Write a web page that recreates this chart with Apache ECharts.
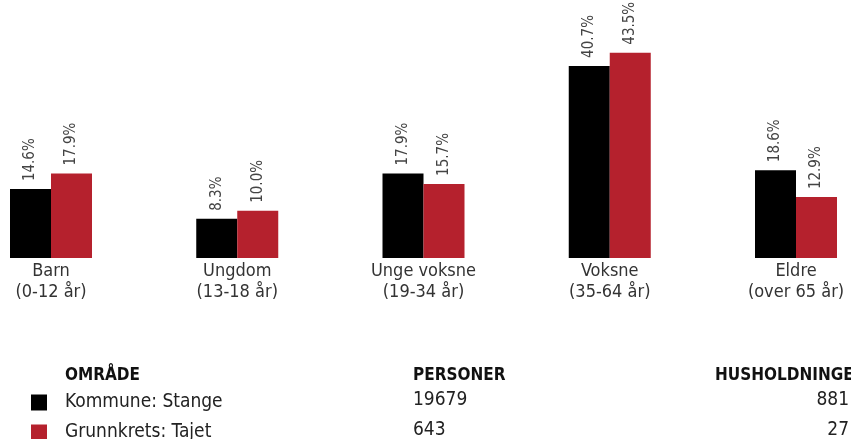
<html>
<head>
<meta charset="UTF-8">
</head>
<body style="margin:0">
<div id="container" style="width:851px;height:439px"></div>
<script src="https://cdn.jsdelivr.net/npm/echarts@6/dist/echarts.min.js"></script>
<script>
var categories = ['Barn\n(0-12 år)', 'Ungdom\n(13-18 år)', 'Unge voksne\n(19-34 år)', 'Voksne\n(35-64 år)', 'Eldre\n(over 65 år)'];
var areaNames = ['Kommune: Stange', 'Grunnkrets: Tajet'];
var kommuneValues = [14.6, 8.3, 17.9, 40.7, 18.6];
var grunnkretsValues = [17.9, 10.0, 15.7, 43.5, 12.9];
var persons = [19679, 643];
var households = [881, 27];
var colors = ['#000000', '#b5212d'];

var font = '"Liberation Sans Narrow", "DejaVu Sans Condensed", sans-serif';

function barLabel() {
    return {
        show: true,
        position: 'top',
        rotate: 90,
        align: 'left',
        verticalAlign: 'middle',
        distance: 8,
        fontFamily: font,
        fontSize: 15,
        color: '#444',
        formatter: function (p) { return p.value.toFixed(1) + '%'; }
    };
}

var myChart = echarts.init(document.getElementById('container'));

var graphics = [];
var heads = [['OMRÅDE', 65], ['PERSONER', 413], ['HUSHOLDNINGER', 715]];
heads.forEach(function (h) {
    graphics.push({
        type: 'text', left: h[1], top: 367,
        style: { text: h[0], fontFamily: font, fontWeight: 'bold', fontSize: 17, fill: '#111' }
    });
});
for (var i = 0; i < areaNames.length; i++) {
    graphics.push({
        type: 'text', left: 413, top: 391 + i * 30,
        style: { text: String(persons[i]), fontFamily: font, fontSize: 19, fill: '#222' }
    });
    graphics.push({
        type: 'text', right: 2, top: 391 + i * 30,
        style: { text: String(households[i]), fontFamily: font, fontSize: 19, fill: '#222', align: 'right' }
    });
}

var option = {
    animation: false,
    color: colors,
    grid: { left: 51, right: 55, top: 22, bottom: 181, containLabel: false },
    legend: {
        orient: 'vertical',
        left: 31,
        top: 393,
        height: 120,
        padding: 0,
        icon: 'rect',
        itemWidth: 16,
        itemHeight: 16,
        itemGap: 11,
        selectedMode: false,
        textStyle: { fontFamily: font, fontSize: 19, color: '#222', padding: [0, 0, 0, 13] },
        data: areaNames
    },
    xAxis: {
        type: 'category',
        data: categories,
        boundaryGap: false,
        axisLine: { show: false },
        axisTick: { show: false },
        axisLabel: { fontFamily: font, fontSize: 18, color: '#333', lineHeight: 21, margin: 3 }
    },
    yAxis: { type: 'value', min: 0, max: 50, show: false },
    graphic: graphics,
    series: [
        { name: areaNames[0], type: 'bar', clip: false, barWidth: 41, barGap: '0%', data: kommuneValues, label: barLabel() },
        { name: areaNames[1], type: 'bar', clip: false, barWidth: 41, barGap: '0%', data: grunnkretsValues, label: barLabel() }
    ]
};
myChart.setOption(option);
</script>
</body>
</html>
